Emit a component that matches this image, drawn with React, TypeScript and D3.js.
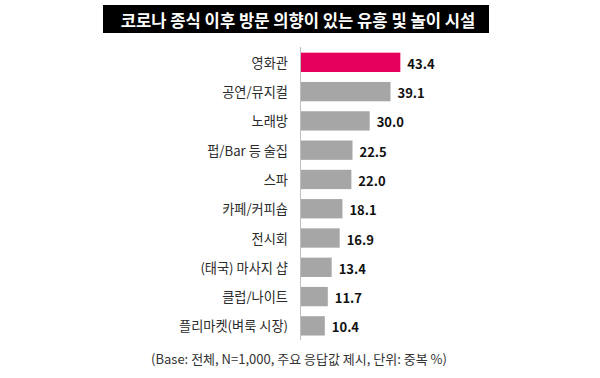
import React from "react";
import * as d3 from "d3";

const categories = [
  "영화관",
  "공연/뮤지컬",
  "노래방",
  "펍/Bar 등 술집",
  "스파",
  "카페/커피숍",
  "전시회",
  "(태국) 마사지 샵",
  "클럽/나이트",
  "플리마켓(벼룩 시장)",
];
const values = [43.4, 39.1, 30.0, 22.5, 22.0, 18.1, 16.9, 13.4, 11.7, 10.4];
const valueLabels = ["43.4", "39.1", "30.0", "22.5", "22.0", "18.1", "16.9", "13.4", "11.7", "10.4"];
const title = "코로나 종식 이후 방문 의향이 있는 유흥 및 놀이 시설";
const footnote = "(Base: 전체, N=1,000, 주요 응답값 제시, 단위: 중복 %)";

const W = 600;
const H = 378;
const FONT = "'Noto Sans CJK KR', 'Noto Sans', sans-serif";

export default function App() {
  const x = d3.scaleLinear().domain([0, 45]).range([301, 404]);
  const y = d3
    .scaleBand<string>()
    .domain(categories)
    .range([47.7, 340.5])
    .paddingInner(0.34)
    .paddingOuter(0.17);

  return (
    <svg
      width={W}
      height={H}
      style={{ position: "absolute", left: 0, top: 0, background: "#fff" }}
      fontFamily={FONT}
    >
      <rect x={0} y={0} width={W} height={H} fill="#fff" />
      <rect x={103} y={5} width={386} height={28} fill="#000" />
      <text
        x={298}
        y={19.5}
        textAnchor="middle"
        dominantBaseline="central"
        fill="#fff"
        fontSize={16.6}
        fontWeight={700}
      >
        {title}
      </text>

      {categories.map((c, i) => {
        const by = y(c)!;
        const bh = y.bandwidth();
        const cy = by + bh / 2;
        return (
          <g key={c}>
            <rect
              x={x(0)}
              y={by}
              width={x(values[i]) - x(0)}
              height={bh}
              fill={i === 0 ? "#E6005C" : "#A6A6A6"}
            />
            <text
              x={288}
              y={cy}
              textAnchor="end"
              dominantBaseline="central"
              fontSize={13.2}
              fill="#2b2b2b"
            >
              {c}
            </text>
            <text
              x={x(values[i]) + 7}
              y={cy + 1}
              dominantBaseline="central"
              fontSize={13}
              fontWeight={700}
              fill="#111"
            >
              {valueLabels[i]}
            </text>
          </g>
        );
      })}

      <line x1={x(0) - 0.5} x2={x(0) - 0.5} y1={47} y2={340} stroke="#BFBFBF" strokeWidth={1} />

      <text
        x={299}
        y={358}
        textAnchor="middle"
        dominantBaseline="central"
        fontSize={13}
        fill="#333"
      >
        {footnote}
      </text>
    </svg>
  );
}
